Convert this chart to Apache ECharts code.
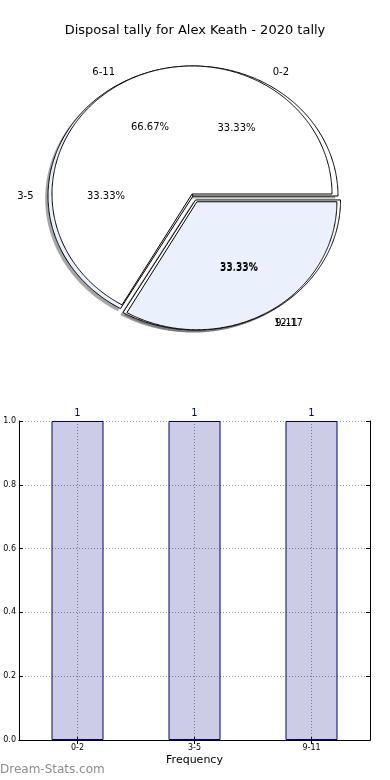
<!DOCTYPE html>
<html><head><meta charset="utf-8">
<script src="https://cdn.jsdelivr.net/npm/echarts@6/dist/echarts.min.js"></script>
<style>html,body{margin:0;padding:0;background:#fff}#c{width:390px;height:780px}</style>
</head><body><div id="c"></div>
<script>
// ---- data ----
const chartTitle = 'Disposal tally for Alex Keath - 2020 tally';
const pieLowerCategories = ['0-2', '3-5', '9-11'];
const pieLowerValues = [1, 1, 1];
const pieUpperCategories = ['6-11', '12-17'];
const pieUpperValues = [2, 1];
const barCategories = ['0-2', '3-5', '9-11'];
const barValues = [1, 1, 1];
const yTickValues = [0, 0.2, 0.4, 0.6, 0.8, 1.0];
const barAxisName = 'Frequency';
const watermark = 'Dream-Stats.com';

// ---- layout / style ----
const FONT = '"DejaVu Sans", sans-serif';
const pieLower = { cx: 193, cy: 196, rx: 145, ry: 130, explode: [0, 0, 0.035], colors: ['#ffffff', '#eaf0fc', '#ffffff'], z: 1 };
const pieUpper = { cx: 192, cy: 194, rx: 140, ry: 128, explode: [0, 0.07], colors: ['#ffffff', '#eaf0fc'], z: 2 };
const ORIGIN_X = 192;

function makePieSeries(name, cats, vals, L) {
  const total = vals.reduce((a, b) => a + b, 0);
  const starts = []; let acc = 0;
  vals.forEach(v => { starts.push(acc); acc += v; });
  return {
    type: 'custom', name: name, coordinateSystem: 'none', silent: true,
    data: vals.map((v, i) => ({ name: cats[i], value: v })),
    renderItem: function (params, api) {
      const i = params.dataIndex;
      const v = api.value(0);
      const t1 = starts[i] / total * 2 * Math.PI;
      const t2 = (starts[i] + v) / total * 2 * Math.PI;
      const tm = (t1 + t2) / 2;
      const e = L.explode[i] || 0;
      const cx = L.cx + e * L.rx * Math.cos(tm);
      const cy = L.cy - e * L.ry * Math.sin(tm);
      const pts = [[cx, cy]];
      const n = Math.max(2, Math.ceil((t2 - t1) / (Math.PI / 360)));
      for (let k = 0; k <= n; k++) {
        const t = t1 + (t2 - t1) * k / n;
        pts.push([cx + L.rx * Math.cos(t), cy - L.ry * Math.sin(t)]);
      }
      const shadowPts = pts.map(p => [p[0] - 2.8, p[1] + 2.6]);
      const lx = cx + 1.1 * L.rx * Math.cos(tm), ly = cy - 1.1 * L.ry * Math.sin(tm);
      const px = cx + 0.6 * L.rx * Math.cos(tm), py = cy - 0.6 * L.ry * Math.sin(tm);
      const pct = (v / total * 100).toFixed(2) + '%';
      return {
        type: 'group', children: [
          { type: 'polygon', z2: 0, shape: { points: shadowPts }, style: { fill: 'rgba(77,77,77,0.5)' } },
          { type: 'polygon', z2: L.z, shape: { points: pts }, style: { fill: L.colors[i], stroke: '#000', lineWidth: 1, lineJoin: 'round' } },
          { type: 'text', z2: 20, x: lx, y: ly, style: { text: cats[i], fill: '#000', font: '10px ' + FONT, align: lx > ORIGIN_X ? 'left' : 'right', verticalAlign: 'middle' } },
          { type: 'text', z2: 20, x: px, y: py, style: { text: pct, fill: '#000', font: '10px ' + FONT, align: 'center', verticalAlign: 'middle' } }
        ]
      };
    }
  };
}

const chart = echarts.init(document.getElementById('c'), null, { renderer: 'canvas' });
const axisBlack = { show: true, lineStyle: { color: '#000', width: 1 } };
chart.setOption({
  animation: false,
  backgroundColor: '#fff',
  textStyle: { fontFamily: FONT },
  title: {
    text: chartTitle, left: 'center', top: 19,
    textStyle: { fontSize: 13, fontWeight: 'normal', color: '#000', fontFamily: FONT }
  },
  graphic: [{
    type: 'text', left: 0, top: 764,
    style: { text: watermark, fill: '#8c8c8c', font: '12px ' + FONT }
  }],
  grid: { left: 19, right: 20, top: 421, bottom: 40, containLabel: false, outerBoundsMode: 'none' },
  xAxis: [
    {
      type: 'category', data: barCategories, position: 'bottom',
      axisLine: axisBlack,
      axisTick: { show: true, inside: true, alignWithLabel: true, length: 4, lineStyle: { color: '#000' } },
      axisLabel: { fontSize: 8, color: '#000', margin: 4, fontFamily: FONT },
      splitLine: { show: false },
      name: barAxisName, nameLocation: 'middle', nameGap: 15,
      nameTextStyle: { fontSize: 11, color: '#000', fontFamily: FONT }
    },
    {
      type: 'category', data: barCategories, position: 'top',
      axisLine: axisBlack,
      axisTick: { show: true, inside: true, alignWithLabel: true, length: 4, lineStyle: { color: '#000' } },
      axisLabel: { show: false }, splitLine: { show: false }
    }
  ],
  yAxis: [
    {
      type: 'value', min: yTickValues[0], max: yTickValues[yTickValues.length - 1], interval: 0.2,
      axisLine: axisBlack,
      axisTick: { show: true, inside: true, length: 4, lineStyle: { color: '#000' } },
      axisLabel: { formatter: v => v.toFixed(1), fontSize: 8, color: '#000', margin: 3, fontFamily: FONT },
      splitLine: { show: true, lineStyle: { type: [1, 2], color: '#999', width: 1 } }
    },
    {
      type: 'value', position: 'right', min: yTickValues[0], max: yTickValues[yTickValues.length - 1], interval: 0.2,
      axisLine: axisBlack,
      axisTick: { show: true, inside: true, length: 4, lineStyle: { color: '#000' } },
      axisLabel: { show: false }, splitLine: { show: false }
    }
  ],
  series: [
    makePieSeries('lower', pieLowerCategories, pieLowerValues, pieLower),
    makePieSeries('upper', pieUpperCategories, pieUpperValues, pieUpper),
    {
      type: 'bar', xAxisIndex: 0, yAxisIndex: 0, data: barValues, barWidth: 52,
      itemStyle: { color: 'rgba(0,0,128,0.2)', borderColor: '#000080', borderWidth: 1 },
      label: { show: true, position: 'top', distance: 3, color: '#000080', fontSize: 10, fontFamily: FONT },
      markLine: {
        silent: true, symbol: ['none', 'none'], label: { show: false }, z: 1,
        lineStyle: { type: [1, 2], color: '#999', width: 1 },
        data: barCategories.map(c => ({ xAxis: c }))
      }
    }
  ]
});
</script>
</body></html>
